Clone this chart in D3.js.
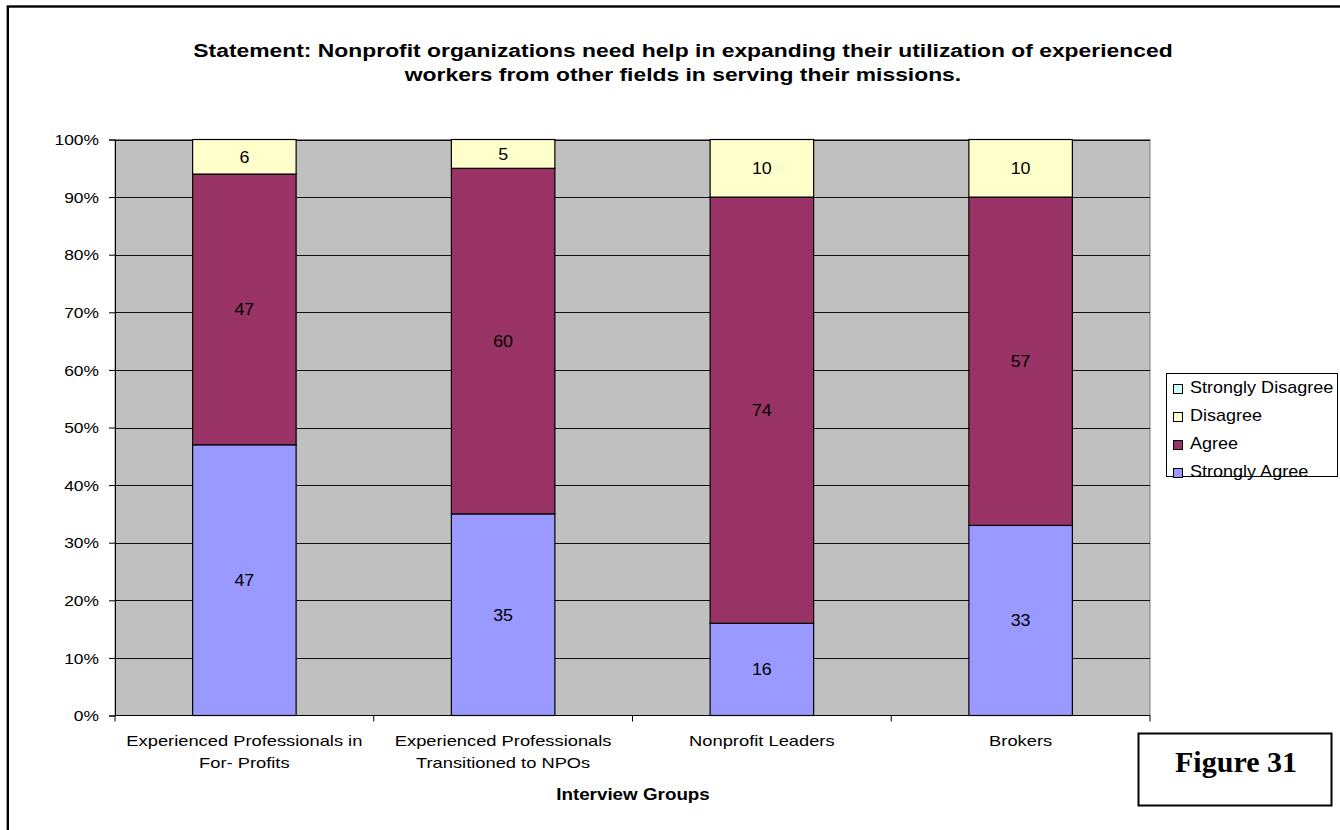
<!DOCTYPE html>
<html>
<head>
<meta charset="utf-8">
<script src="https://cdn.jsdelivr.net/npm/d3@7"></script>
<style>
  html, body { margin: 0; padding: 0; background: #fff; }
  svg { display: block; }
</style>
</head>
<body>
<svg id="chart" width="1340" height="830"></svg>
<script>
// Survey responses per interview group (percent of respondents)
const groups = [
  ["Experienced Professionals in", "For- Profits"],
  ["Experienced Professionals", "Transitioned to NPOs"],
  ["Nonprofit Leaders"],
  ["Brokers"]
];
const seriesNames = ["Strongly Agree", "Agree", "Disagree", "Strongly Disagree"];
const stronglyAgree = [47, 35, 16, 33];
const agree = [47, 60, 74, 57];
const disagree = [6, 5, 10, 10];
const stronglyDisagree = [0, 0, 0, 0];
const yTicks = [0, 10, 20, 30, 40, 50, 60, 70, 80, 90, 100];
const titleLines = [
  "Statement: Nonprofit organizations need help in expanding their utilization of experienced",
  "workers from other fields in serving their missions."
];

const colors = {
  "Strongly Agree": "#9999FF",
  "Agree": "#993366",
  "Disagree": "#FFFFCC",
  "Strongly Disagree": "#CCFFFF"
};
const seriesValues = [stronglyAgree, agree, disagree, stronglyDisagree];

const svg = d3.select("#chart");
const font = "Arial, 'Liberation Sans', sans-serif";

// Widen glyphs horizontally by a factor (the chart font is set wide)
function widen(sel, f) {
  sel.each(function () {
    const len = this.getComputedTextLength();
    this.setAttribute("textLength", len * f);
    this.setAttribute("lengthAdjust", "spacingAndGlyphs");
  });
}

// Outer frame (extends past right and bottom edges)
svg.append("rect")
  .attr("x", 7.8).attr("y", 6.5).attr("width", 1345).attr("height", 840)
  .attr("fill", "none").attr("stroke", "#000").attr("stroke-width", 2.4);

const plot = { left: 115, top: 139.5, right: 1150, bottom: 715.5 };

const x = d3.scaleBand()
  .domain(d3.range(groups.length))
  .range([plot.left, plot.right])
  .padding(0);
const y = d3.scaleLinear().domain([0, 100]).range([plot.bottom, plot.top]);

// Plot area background
svg.append("rect")
  .attr("x", plot.left).attr("y", plot.top)
  .attr("width", plot.right - plot.left).attr("height", plot.bottom - plot.top)
  .attr("fill", "#C0C0C0").attr("stroke", "#808080").attr("stroke-width", 1);

// Horizontal gridlines
svg.append("g").selectAll("line")
  .data(yTicks.filter(t => t > 0))
  .join("line")
  .attr("x1", plot.left).attr("x2", plot.right)
  .attr("y1", d => Math.round(y(d)) + 0.5).attr("y2", d => Math.round(y(d)) + 0.5)
  .attr("stroke", "#111").attr("stroke-width", 1);

// Y axis
const yAxis = d3.axisLeft(y).tickValues(yTicks).tickFormat(d => d + "%").tickSize(6).tickPadding(10);
const yg = svg.append("g").attr("transform", `translate(${plot.left},0)`).call(yAxis);
yg.select(".domain").attr("stroke", "#000");
yg.selectAll(".tick line").attr("stroke", "#000");
yg.selectAll("text")
  .attr("font-family", font).attr("font-size", 14.5).attr("fill", "#000")
  .attr("dy", "0.36em");
widen(yg.selectAll("text"), 1.2);

// X axis: ticks at category boundaries
const xg = svg.append("g");
xg.append("line")
  .attr("x1", plot.left).attr("x2", plot.right)
  .attr("y1", plot.bottom).attr("y2", plot.bottom)
  .attr("stroke", "#000");
xg.selectAll("line.tk")
  .data(d3.range(groups.length + 1))
  .join("line").attr("class", "tk")
  .attr("x1", i => i < groups.length ? x(i) : plot.right)
  .attr("x2", i => i < groups.length ? x(i) : plot.right)
  .attr("y1", plot.bottom).attr("y2", plot.bottom + 6)
  .attr("stroke", "#000");

// Category labels
groups.forEach((lines, i) => {
  lines.forEach((ln, k) => {
    const t = svg.append("text")
      .attr("x", x(i) + x.bandwidth() / 2)
      .attr("y", 746 + k * 22)
      .attr("text-anchor", "middle")
      .attr("font-family", font).attr("font-size", 15).attr("fill", "#000")
      .text(ln);
    widen(t, 1.22);
  });
});

// Stacked bars
const barW = x.bandwidth() * 0.4;
const stackData = groups.map((g, i) => {
  const row = { i };
  seriesNames.forEach((s, k) => row[s] = seriesValues[k][i]);
  return row;
});
const stacked = d3.stack().keys(seriesNames)(stackData);

const barsG = svg.append("g");
stacked.forEach(layer => {
  layer.forEach((d, i) => {
    if (d[1] - d[0] <= 0) return;
    const cx = x(i) + x.bandwidth() / 2;
    barsG.append("rect")
      .attr("x", cx - barW / 2)
      .attr("y", y(d[1]))
      .attr("width", barW)
      .attr("height", y(d[0]) - y(d[1]))
      .attr("fill", colors[layer.key])
      .attr("stroke", "#000").attr("stroke-width", 1.2);
    const t = barsG.append("text")
      .attr("x", cx)
      .attr("y", (y(d[0]) + y(d[1])) / 2 + 6)
      .attr("text-anchor", "middle")
      .attr("font-family", font).attr("font-size", 17).attr("fill", "#000")
      .text(d[1] - d[0]);
    widen(t, 1.05);
  });
});

// Title
titleLines.forEach((ln, k) => {
  const t = svg.append("text")
    .attr("x", 683).attr("y", 57 + k * 24)
    .attr("text-anchor", "middle")
    .attr("font-family", font).attr("font-size", 18).attr("font-weight", "bold").attr("fill", "#000")
    .text(ln);
  widen(t, 1.27);
});

// Axis title
const at = svg.append("text")
  .attr("x", 633).attr("y", 800)
  .attr("text-anchor", "middle")
  .attr("font-family", font).attr("font-size", 16.5).attr("font-weight", "bold").attr("fill", "#000")
  .text("Interview Groups");
widen(at, 1.14);

// Legend (top entry is the last series)
const legend = svg.append("g");
legend.append("rect")
  .attr("x", 1166.5).attr("y", 373.5).attr("width", 171).attr("height", 103)
  .attr("fill", "#fff").attr("stroke", "#000").attr("stroke-width", 1);
seriesNames.slice().reverse().forEach((s, k) => {
  const base = 393 + k * 28;
  legend.append("rect")
    .attr("x", 1173.5).attr("y", base - 8.5).attr("width", 9).attr("height", 9)
    .attr("fill", colors[s]).attr("stroke", "#000").attr("stroke-width", 1);
  const t = legend.append("text")
    .attr("x", 1190).attr("y", base)
    .attr("font-family", font).attr("font-size", 17).attr("fill", "#000")
    .text(s);
  widen(t, 1.06);
});

// Figure label box
svg.append("rect")
  .attr("x", 1138.5).attr("y", 733.5).attr("width", 193).attr("height", 72)
  .attr("fill", "#fff").attr("stroke", "#000").attr("stroke-width", 2);
svg.append("text")
  .attr("x", 1236).attr("y", 772)
  .attr("text-anchor", "middle")
  .attr("font-family", "'Liberation Serif', 'DejaVu Serif', serif")
  .attr("font-size", 30).attr("font-weight", "bold").attr("fill", "#000")
  .text("Figure 31");
</script>
</body>
</html>
